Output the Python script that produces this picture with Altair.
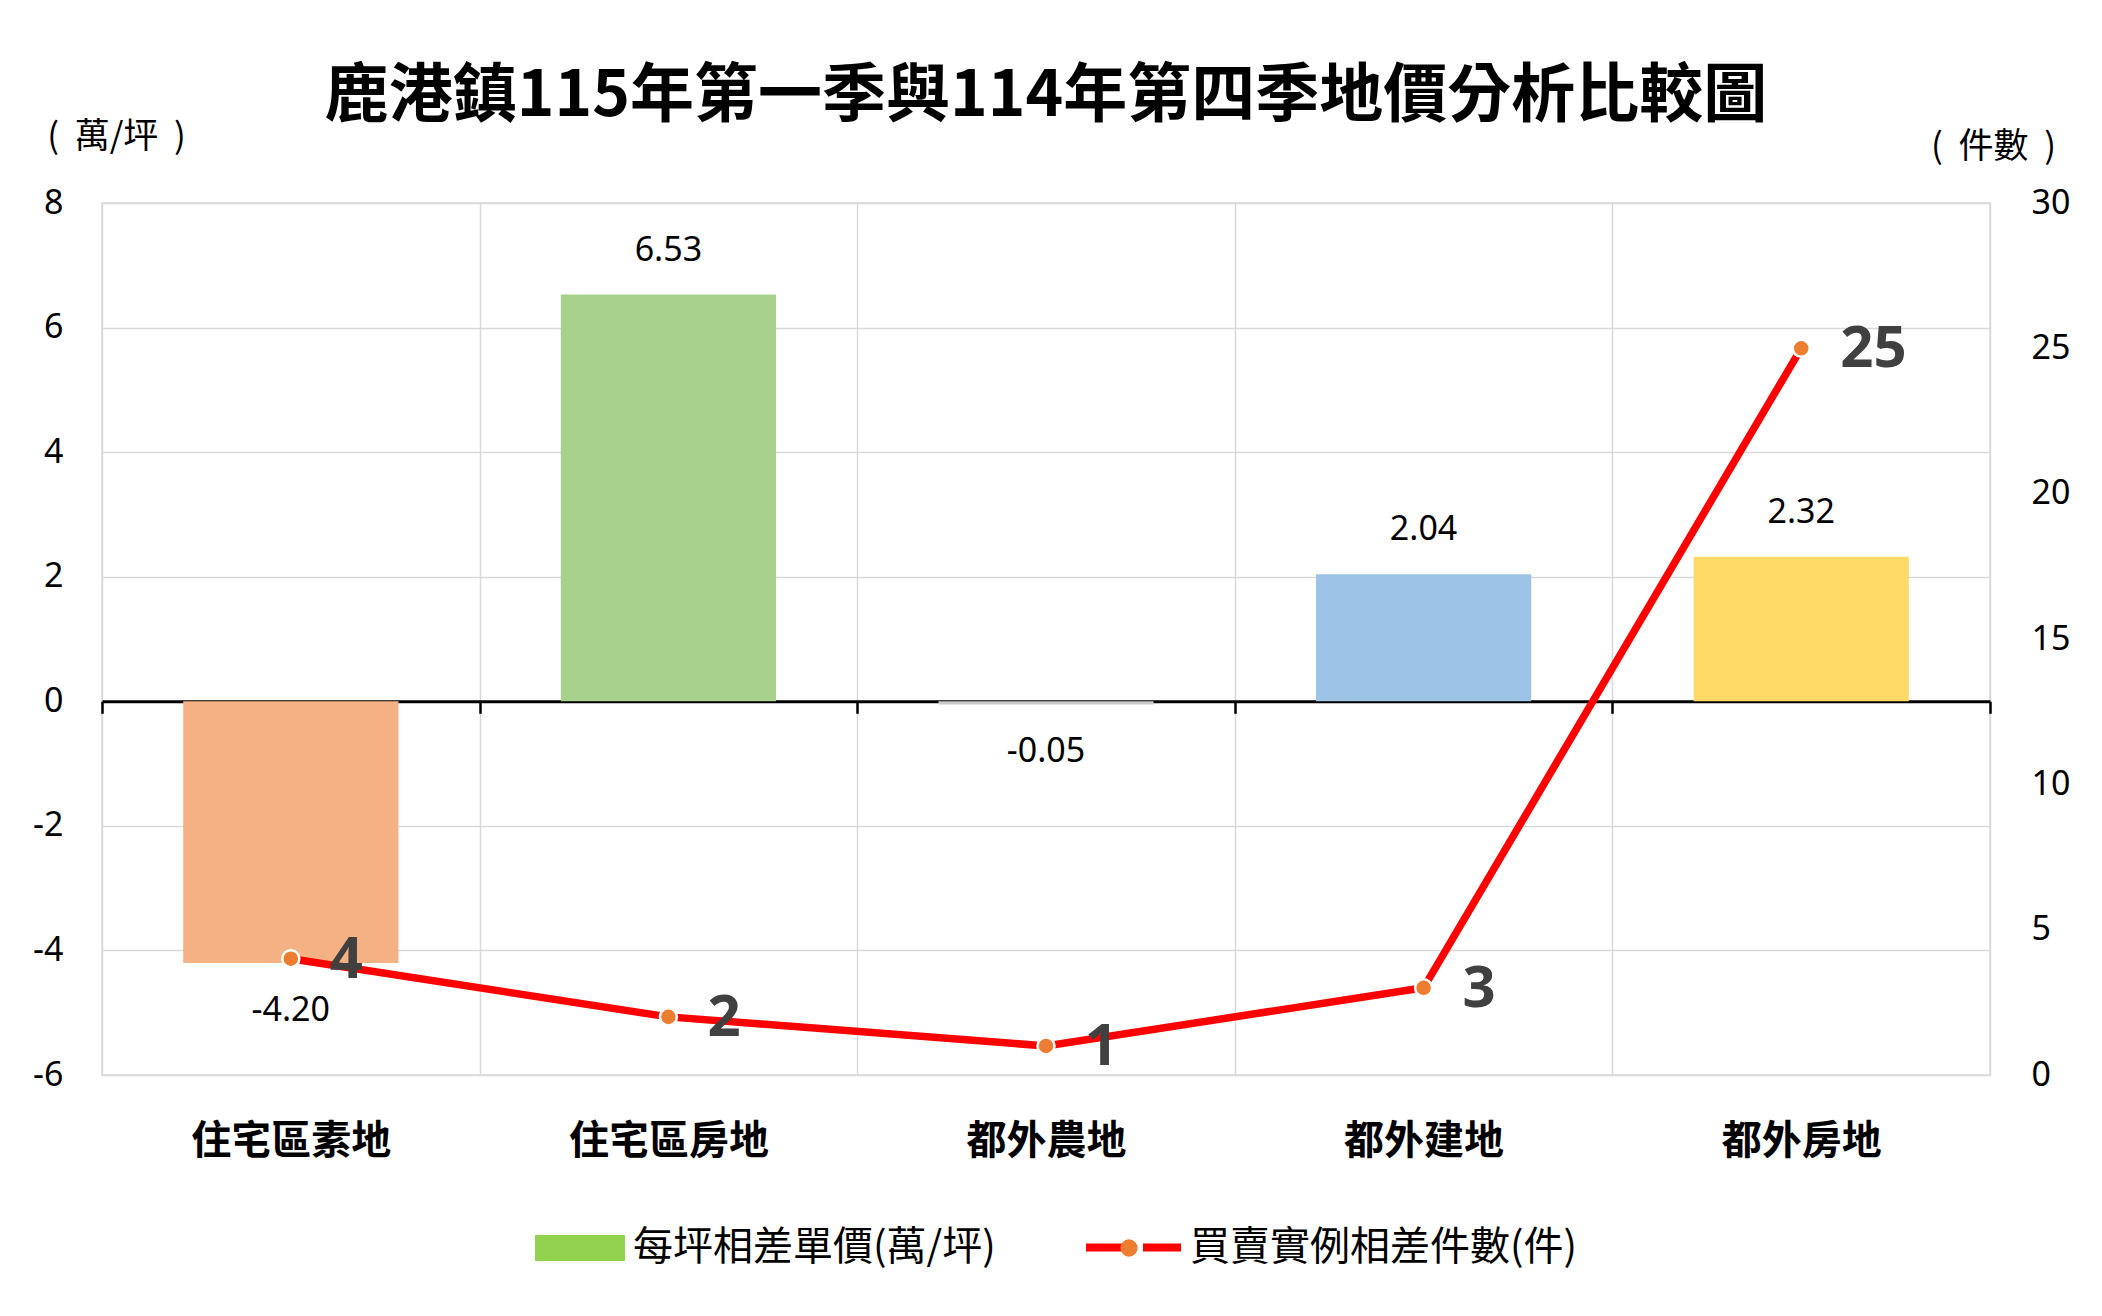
import altair as alt
import pandas as pd

# ---- data ----
categories = ["住宅區素地", "住宅區房地", "都外農地", "都外建地", "都外房地"]
price_diff = [-4.20, 6.53, -0.05, 2.04, 2.32]
count_diff = [4, 2, 1, 3, 25]
bar_colors = ["#F4B183", "#A9D18E", "#C9C9C9", "#9DC3E6", "#FFD966"]
left_ticks = [-6, -4, -2, 0, 2, 4, 6, 8]
right_ticks = [0, 5, 10, 15, 20, 25, 30]
bar_series = "每坪相差單價(萬/坪)"
line_series = "買賣實例相差件數(件)"
title_text = "鹿港鎮115年第一季與114年第四季地價分析比較圖"
left_unit = "(\u00a0\u00a0萬/坪\u00a0\u00a0)"
right_unit = "(\u00a0\u00a0件數\u00a0\u00a0)"

df = pd.DataFrame({
    "cat": categories,
    "price": price_diff,
    "price_label": [f"{v:.2f}" for v in price_diff],
    "count": count_diff,
    "lg_bar": bar_series,
    "lg_line": line_series,
    "lg_dot": "dot",
})

W, H = 1888, 872
CJK = "Noto Sans CJK TC"
LAT = "Noto Sans"
zero_offset = -H * 6 / 14.0

x_enc = alt.X(
    "cat:N", sort=categories, title=None,
    scale=alt.Scale(paddingInner=0, paddingOuter=0),
    axis=alt.Axis(
        orient="bottom", offset=zero_offset,
        domainColor="#000000", domainWidth=3,
        ticks=True, tickColor="#000000", tickWidth=2.5, tickSize=12,
        tickBand="extent",
        grid=True, gridColor="#D9D9D9", gridWidth=1.5,
        labelFont=CJK, labelFontSize=40, labelFontWeight="bold",
        labelColor="#000000", labelAngle=0, labelBaseline="middle",
        labelPadding=428, labelLimit=600,
    ),
)

y_left = alt.Y(
    "price:Q",
    scale=alt.Scale(domain=[-6, 8], nice=False, zero=False),
    axis=alt.Axis(
        orient="left", values=left_ticks, labelExpr="'' + datum.value",
        grid=True, gridColor="#D9D9D9", gridWidth=1.5,
        domain=False, ticks=False,
        labelFont=LAT, labelFontSize=34, labelColor="#000000", labelPadding=39,
        title=left_unit, titleAngle=0, titleX=14, titleY=-67,
        titleAlign="center", titleBaseline="middle",
        titleFont=CJK, titleFontSize=35, titleFontWeight="normal", titleColor="#000000",
    ),
)

y_right = alt.Y(
    "count:Q",
    scale=alt.Scale(domain=[0, 30], nice=False),
    axis=alt.Axis(
        orient="right", values=right_ticks, grid=False,
        domain=False, ticks=False,
        labelFont=LAT, labelFontSize=34, labelColor="#000000", labelPadding=41,
        title=right_unit, titleAngle=0, titleX=3, titleY=-57,
        titleAlign="center", titleBaseline="middle",
        titleFont=CJK, titleFontSize=35, titleFontWeight="normal", titleColor="#000000",
    ),
)

base = alt.Chart(df)

bars = base.mark_bar(width=alt.RelativeBandSize(0.57)).encode(
    x=x_enc,
    y=y_left,
    color=alt.Color("cat:N", scale=alt.Scale(domain=categories, range=bar_colors), legend=None),
    opacity=alt.Opacity(
        "lg_bar:N", scale=alt.Scale(domain=[bar_series], range=[1]),
        legend=alt.Legend(
            orient="none", legendX=433, legendY=1000, title=None, padding=0,
            symbolType="M-1,-0.289H1V0.289H-1Z", symbolSize=8100,
            symbolFillColor="#92D050", symbolStrokeWidth=0, symbolOpacity=1,
            labelFont=CJK, labelFontSize=40, labelColor="#000000", labelOffset=8,
            labelLimit=800,
        ),
    ),
)

lab_pos = base.transform_filter("datum.price >= 0").mark_text(
    dy=-44, fontSize=34, font=LAT, color="#000000", baseline="middle"
).encode(x=x_enc, y=y_left, text="price_label:N")

lab_neg = base.transform_filter("datum.price < 0").mark_text(
    dy=48, fontSize=34, font=LAT, color="#000000", baseline="middle"
).encode(x=x_enc, y=y_left, text="price_label:N")

line = base.mark_line(strokeWidth=7.5).encode(
    x=x_enc,
    y=y_right,
    stroke=alt.Stroke(
        "lg_line:N", scale=alt.Scale(domain=[line_series], range=["#FF0000"]),
        legend=alt.Legend(
            orient="none", legendX=980, legendY=993, title=None, padding=0,
            symbolType="M-1,0H-0.2M0.2,0H1", symbolSize=9025,
            symbolStrokeWidth=8, symbolFillColor="transparent",
            labelFont=CJK, labelFontSize=40, labelColor="#000000", labelOffset=5,
            labelLimit=800,
        ),
    ),
)

points = base.mark_point(
    filled=True, fill="#ED7D31", stroke="#FFFFFF", strokeWidth=2.5, size=290, opacity=1
).encode(
    x=x_enc,
    y=y_right,
    shape=alt.Shape(
        "lg_dot:N", scale=alt.Scale(domain=["dot"], range=["circle"]),
        legend=alt.Legend(
            orient="none", legendX=1017, legendY=1035, title=None, padding=0,
            symbolSize=300, symbolFillColor="#ED7D31", symbolStrokeColor="#FFFFFF",
            symbolStrokeWidth=2.5, labelExpr="''", labelFontSize=1,
        ),
    ),
)

line_labels = base.mark_text(
    align="left", baseline="middle", dx=39, dy=2,
    fontSize=58, fontWeight="bold", font=LAT, color="#404040",
).encode(x=x_enc, y=y_right, text="count:Q")

left = alt.layer(bars, lab_pos, lab_neg)
right = alt.layer(line, points, line_labels)

chart = alt.layer(left, right).resolve_scale(y="independent").properties(
    width=W, height=H,
    autosize=alt.AutoSizeParams(type="none"),
    padding={"left": 94, "top": 195, "right": 96, "bottom": 225},
    title=alt.TitleParams(
        title_text, font=CJK, fontSize=64, fontWeight="bold", color="#000000",
        anchor="middle", frame="group", baseline="middle", offset=25, dy=67,
    ),
    background="#FFFFFF",
).configure_view(stroke="#D9D9D9", strokeWidth=1.5)

chart.save("out.html", embed_options={"renderer": "svg", "actions": False})
